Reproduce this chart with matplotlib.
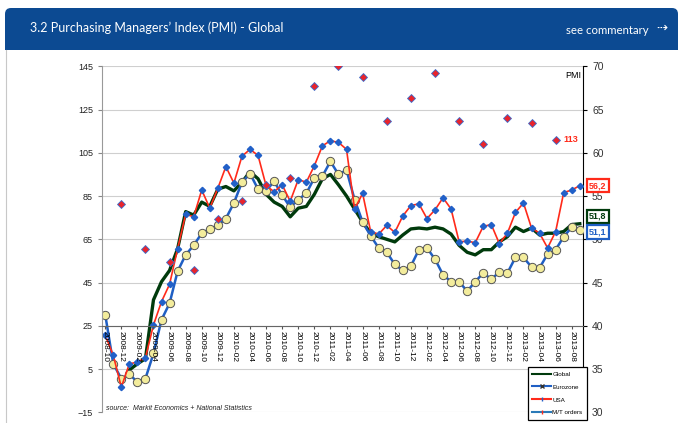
import numpy as np
import pandas as pd
import matplotlib
matplotlib.use("Agg")
import matplotlib.pyplot as plt
from matplotlib.lines import Line2D
from matplotlib.patches import FancyBboxPatch, Rectangle
from matplotlib.transforms import IdentityTransform, blended_transform_factory

plt.rcParams['font.family'] = ['Liberation Sans', 'DejaVu Sans']

# monthly categories 2008-10 .. 2013-09
months = list(pd.period_range('2008-10', periods=60, freq='M').strftime('%Y-%m'))

# PMI series (right axis)
usa = [38.9, 36.6, 32.9, 35.6, 35.8, 36.3, 40.1, 42.8, 44.8, 48.9,
       52.9, 52.6, 55.7, 53.6, 55.9, 58.4, 56.5, 59.6, 60.4, 59.7,
       56.2, 55.5, 56.3, 54.4, 56.9, 56.6, 58.5, 60.8, 61.4, 61.2,
       60.4, 53.5, 55.3, 50.9, 50.6, 51.6, 50.8, 52.7, 53.9, 54.1,
       52.4, 53.4, 54.8, 53.5, 49.7, 49.8, 49.6, 51.5, 51.7, 49.5,
       50.7, 53.1, 54.2, 51.3, 50.7, 49.0, 50.9, 55.4, 55.7, 56.2]

eurozone = [41.3, 35.6, 33.9, 34.4, 33.5, 33.9, 36.8, 40.7, 42.6, 46.3,
            48.2, 49.3, 50.7, 51.2, 51.6, 52.4, 54.2, 56.6, 57.6, 55.8,
            55.6, 56.7, 55.1, 53.7, 54.6, 55.3, 57.1, 57.3, 59.0, 57.5,
            58.0, 54.6, 52.0, 50.4, 49.0, 48.5, 47.1, 46.4, 46.9, 48.8,
            49.0, 47.7, 45.9, 45.1, 45.1, 44.0, 45.1, 46.1, 45.4, 46.2,
            46.1, 47.9, 47.9, 46.8, 46.7, 48.3, 48.8, 50.3, 51.4, 51.1]

# global starts 2009-01
global_pmi = [np.nan, np.nan, np.nan,
              34.9, 35.6, 36.2, 43.0, 45.1, 46.4, 48.9,
              53.2, 52.8, 54.3, 53.8, 55.8, 56.1, 55.6, 56.6, 57.8, 57.0,
              55.2, 54.3, 53.8, 52.6, 53.6, 53.8, 55.2, 57.0, 57.5, 56.3,
              55.0, 53.5, 52.0, 50.7, 50.3, 50.0, 49.7, 50.5, 51.2, 51.3,
              51.2, 51.4, 51.2, 50.6, 49.3, 48.5, 48.2, 48.8, 48.8, 49.7,
              50.3, 51.4, 50.9, 51.3, 50.5, 50.7, 50.7, 50.9, 51.7, 51.8]

# M/T orders, quarterly (left axis)
mt_months = ['2008-12', '2009-03', '2009-06', '2009-09', '2009-12', '2010-03',
             '2010-06', '2010-09', '2010-12', '2011-03', '2011-06', '2011-09',
             '2011-12', '2012-03', '2012-06', '2012-09', '2012-12', '2013-03',
             '2013-06']
mt_orders = [81.3, 60.5, 54.4, 50.8, 74.3, 82.8, 90.0, 93.5, 136, 145, 140,
             119.5, 130.5, 142, 119.5, 109, 121.3, 119, 111]

W, H = 678, 423
fig = plt.figure(figsize=(W / 100, H / 100), dpi=100)

# header band
band = FancyBboxPatch((5, H - 50), W - 5, 42, boxstyle='round,pad=0,rounding_size=6',
                      transform=IdentityTransform(), fc='#0c4a92', ec='none')
fig.patches.append(band)
fig.patches.append(Rectangle((5, H - 50), W - 5, 20, transform=IdentityTransform(),
                             fc='#0c4a92', ec='none'))
fig.add_artist(Line2D([5.5, 5.5], [0, H - 50], transform=IdentityTransform(),
                      color='#c8c8c8', lw=0.8))
fig.text(30 / W, 1 - 28 / H, "3.2 Purchasing Managers\u2019 Index (PMI) - Global",
         color='white', fontsize=9, family=['Lato', 'DejaVu Sans'], va='center')
fig.text(566 / W, 1 - 30 / H, 'see commentary', color='white', fontsize=8.2,
         family=['Lato', 'DejaVu Sans'], va='center')
fig.text(656 / W, 1 - 28 / H, '\u21e2', color='white', fontsize=9.5,
         family='DejaVu Sans', va='center')

# axes
ax = fig.add_axes([102 / W, 1 - 412.3 / H, 481 / W, 346 / H])
ax2 = ax.twinx()
ax.set_zorder(ax2.get_zorder() + 1)
ax.patch.set_visible(False)

x = np.arange(len(months))
ax2.plot(x, global_pmi, color='#003a0c', lw=2.4, solid_joinstyle='round', zorder=2)
ax2.plot(x, eurozone, color='#1f5fc4', lw=1.8, marker='o', ms=6,
         mfc='#f3ec9c', mec='#555555', mew=0.7, zorder=3)
ax2.plot(x, usa, color='#ff2a1a', lw=1.2, marker='D', ms=3.2,
         mfc='#2160c8', mec='#2160c8', zorder=4)

mt_x = [months.index(m) for m in mt_months]
ax.plot(mt_x, mt_orders, ls='none', marker='D', ms=4.5, mfc='#e8242c',
        mec='#3a6fd0', mew=0.6, zorder=5)

ax.set_xlim(-0.4, 59.4)
ax.set_ylim(-15, 145)
ax2.set_ylim(30, 70)
ax.set_yticks(np.arange(-15, 146, 20))
ax2.set_yticks(np.arange(30, 71, 5))
ax.set_xticks(x[::2])
ax.set_xticklabels(months[::2])
ax.tick_params(axis='x', length=2.5, pad=1.5, color='#555555',
               labelrotation=270, labelsize=6)
ax.tick_params(axis='y', labelsize=6.5, length=3, color='#888888', labelcolor='#222222')
ax2.tick_params(axis='y', labelsize=7.5, length=3, color='black', labelcolor='#333333')

ax2.yaxis.grid(True, color='#cfcfcf', lw=0.8)
ax2.set_axisbelow(True)

ax.spines['bottom'].set_position(('data', 25))
ax.spines['bottom'].set_color('#666666')
ax.spines['left'].set_color('#999999')
for s in ['top', 'right']:
    ax.spines[s].set_visible(False)
for s in ['top', 'left', 'bottom']:
    ax2.spines[s].set_visible(False)
ax2.spines['right'].set_color('black')

fig.text(573 / W, 1 - 75 / H, 'PMI', fontsize=6.5, ha='center', va='center')
ax.text(57.0, mt_orders[-1], '113', color='#ff2a1a', fontsize=6.5,
        fontweight='bold', va='center', ha='left')

trans = blended_transform_factory(ax2.transAxes, ax2.transData)
end_labels = [('56,2', 56.2, '#ff2a1a'), ('51,8', 52.65, '#003a0c'),
              ('51,1', 50.85, '#1f5fc4')]
for txt, yv, col in end_labels:
    ax2.text(1.013, yv, txt, transform=trans, color=col, fontsize=6.5,
             fontweight='bold', va='center', ha='left', clip_on=False,
             bbox=dict(boxstyle='square,pad=0.25', fc='white', ec=col, lw=1.6))

fig.text(106 / W, 1 - 408 / H, 'source:  Markit Economics + National Statistics',
         fontsize=5, fontstyle='italic', color='#222222', va='center')

handles = [
    Line2D([], [], color='#003a0c', lw=1.5, label='Global'),
    Line2D([], [], color='#1f5fc4', lw=1.5, marker='x', ms=2.5, mec='#333333',
           label='Eurozone'),
    Line2D([], [], color='#ff2a1a', lw=1.5, marker='|', ms=3, mec='#2160c8',
           label='USA'),
    Line2D([], [], color='#2a7ab8', lw=1.5, marker='|', ms=3, mec='#ff2a1a',
           label='M/T orders'),
]
leg = ax.legend(handles=handles, loc='upper left', bbox_to_anchor=(528 / W, 1 - 367 / H),
                bbox_transform=fig.transFigure, fontsize=4.5, fancybox=False,
                edgecolor='black', framealpha=1, labelspacing=1.2, handlelength=3.0,
                handletextpad=0.2, borderpad=0.7, borderaxespad=0)
leg.get_frame().set_linewidth(0.9)
leg.set_zorder(10)

fig.savefig('out.png', dpi=100)
